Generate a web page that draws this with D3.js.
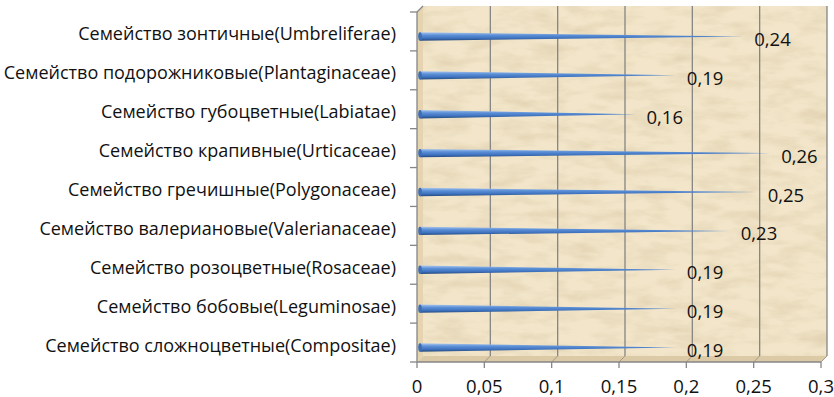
<!DOCTYPE html>
<html>
<head>
<meta charset="utf-8">
<script src="https://cdn.jsdelivr.net/npm/d3@7"></script>
<style>
  body { margin: 0; background: #fff; }
  svg text { font-family: "Open Sans", "Noto Sans", sans-serif; fill: #111; }
</style>
</head>
<body>
<div id="chart"></div>
<script>
const categories = [
  "Семейство зонтичные(Umbreliferae)",
  "Семейство подорожниковые(Plantaginaceae)",
  "Семейство губоцветные(Labiatae)",
  "Семейство крапивные(Urticaceae)",
  "Семейство гречишные(Polygonaceae)",
  "Семейство валериановые(Valerianaceae)",
  "Семейство розоцветные(Rosaceae)",
  "Семейство бобовые(Leguminosae)",
  "Семейство сложноцветные(Compositae)"
];
const values = [0.24, 0.19, 0.16, 0.26, 0.25, 0.23, 0.19, 0.19, 0.19];
const valueLabels = ["0,24", "0,19", "0,16", "0,26", "0,25", "0,23", "0,19", "0,19", "0,19"];
const xTicks = [0, 0.05, 0.1, 0.15, 0.2, 0.25, 0.3];
const xTickLabels = ["0", "0,05", "0,1", "0,15", "0,2", "0,25", "0,3"];

const width = 834, height = 397;
const depth = { dx: 6, dy: -6 };

const svg = d3.select("#chart").append("svg")
  .attr("width", width)
  .attr("height", height);

const defs = svg.append("defs");

// parchment texture, kept faint
const tex = defs.append("filter").attr("id", "paper")
  .attr("x", 0).attr("y", 0).attr("width", 1).attr("height", 1);
tex.append("feTurbulence")
  .attr("type", "fractalNoise")
  .attr("baseFrequency", "0.03 0.09")
  .attr("numOctaves", 4)
  .attr("seed", 3)
  .attr("result", "noise");
tex.append("feColorMatrix")
  .attr("in", "noise")
  .attr("type", "matrix")
  .attr("values", "0 0 0 0 0.6  0 0 0 0 0.47  0 0 0 0 0.28  0 0 0 -0.7 0.42")
  .attr("result", "tint");
tex.append("feComposite").attr("in", "tint").attr("in2", "SourceGraphic").attr("operator", "in");

const grad = defs.append("linearGradient").attr("id", "cone")
  .attr("x1", 0).attr("y1", 0).attr("x2", 0).attr("y2", 1);
grad.append("stop").attr("offset", "0%").attr("stop-color", "#a9c6ee");
grad.append("stop").attr("offset", "35%").attr("stop-color", "#5b8fd6");
grad.append("stop").attr("offset", "70%").attr("stop-color", "#3f73bf");
grad.append("stop").attr("offset", "100%").attr("stop-color", "#24497f");

const x = d3.scaleLinear().domain([0, 0.3]).range([417, 821]);
const y = d3.scaleBand().domain(categories).range([12, 362]).padding(0);

const x0 = x(0), x1 = x(0.3), yTop = y.range()[0], yBot = y.range()[1];

// back wall
svg.append("rect")
  .attr("x", x0 + depth.dx).attr("y", yTop + depth.dy)
  .attr("width", x1 - x0).attr("height", yBot - yTop)
  .attr("fill", "#f2e5c9");
svg.append("rect")
  .attr("x", x0 + depth.dx).attr("y", yTop + depth.dy)
  .attr("width", x1 - x0).attr("height", yBot - yTop)
  .attr("fill", "#fff")
  .attr("filter", "url(#paper)");

// side wall and floor
svg.append("polygon")
  .attr("points", [[x0, yTop], [x0 + depth.dx, yTop + depth.dy], [x0 + depth.dx, yBot + depth.dy], [x0, yBot]].join(" "))
  .attr("fill", "#e6d4b0");
svg.append("polygon")
  .attr("points", [[x0, yBot], [x0 + depth.dx, yBot + depth.dy], [x1 + depth.dx, yBot + depth.dy], [x1, yBot]].join(" "))
  .attr("fill", "#dccaa6");

// gridlines on back wall
svg.append("g").selectAll("line").data(xTicks.slice(1)).join("line")
  .attr("x1", d => x(d) + depth.dx).attr("x2", d => x(d) + depth.dx)
  .attr("y1", yTop + depth.dy).attr("y2", yBot + depth.dy)
  .attr("stroke", "#858585").attr("stroke-width", 1.3);
svg.append("g").selectAll("line").data(xTicks.slice(1)).join("line")
  .attr("x1", d => x(d)).attr("x2", d => x(d) + depth.dx)
  .attr("y1", yBot).attr("y2", yBot + depth.dy)
  .attr("stroke", "#a59a86").attr("stroke-width", 1);

// left axis
const yEdges = categories.map(c => y(c)).concat([yBot]);
const ax = svg.append("g").attr("stroke", "#868686").attr("stroke-width", 1.3);
ax.append("line").attr("x1", x0).attr("x2", x0).attr("y1", yTop).attr("y2", yBot);
ax.selectAll(".yt").data(yEdges).join("line").attr("class", "yt")
  .attr("x1", x0 - 7).attr("x2", x0).attr("y1", d => d).attr("y2", d => d);
ax.append("line").attr("x1", x0).attr("x2", x0 + depth.dx).attr("y1", yTop).attr("y2", yTop + depth.dy);

// bottom axis
ax.append("line").attr("x1", x0).attr("x2", x1).attr("y1", yBot).attr("y2", yBot);
ax.selectAll(".xt").data(xTicks).join("line").attr("class", "xt")
  .attr("x1", d => x(d)).attr("x2", d => x(d)).attr("y1", yBot).attr("y2", yBot + 6);

svg.append("g").selectAll("text").data(xTicks).join("text")
  .attr("x", d => x(d)).attr("y", 385)
  .attr("text-anchor", "middle").attr("dominant-baseline", "central")
  .attr("font-size", 18.5)
  .text((d, i) => xTickLabels[i]);

// category labels
svg.append("g").selectAll("text").data(categories).join("text")
  .attr("x", 396).attr("y", d => y(d) + y.bandwidth() / 2 + 2)
  .attr("text-anchor", "end").attr("dominant-baseline", "central")
  .attr("font-size", 18)
  .text(d => d);

// cone bars
const half = 4.2;
const bars = svg.append("g").selectAll("g").data(values).join("g");
bars.append("polygon")
  .attr("points", (d, i) => {
    const cy = y(categories[i]) + y.bandwidth() / 2 + 5;
    return [[x0 + 3, cy - half], [x(d) + 3, cy], [x0 + 3, cy + half]].join(" ");
  })
  .attr("fill", "url(#cone)");
bars.append("ellipse")
  .attr("cx", x0 + 3)
  .attr("cy", (d, i) => y(categories[i]) + y.bandwidth() / 2 + 5)
  .attr("rx", 1.8).attr("ry", half)
  .attr("fill", "#3c6db5");

// value labels
svg.append("g").selectAll("text").data(values).join("text")
  .attr("x", d => x(d) + 14)
  .attr("y", (d, i) => y(categories[i]) + y.bandwidth() / 2 + 7)
  .attr("dominant-baseline", "central")
  .attr("font-size", 18.5)
  .text((d, i) => valueLabels[i]);
</script>
</body>
</html>
